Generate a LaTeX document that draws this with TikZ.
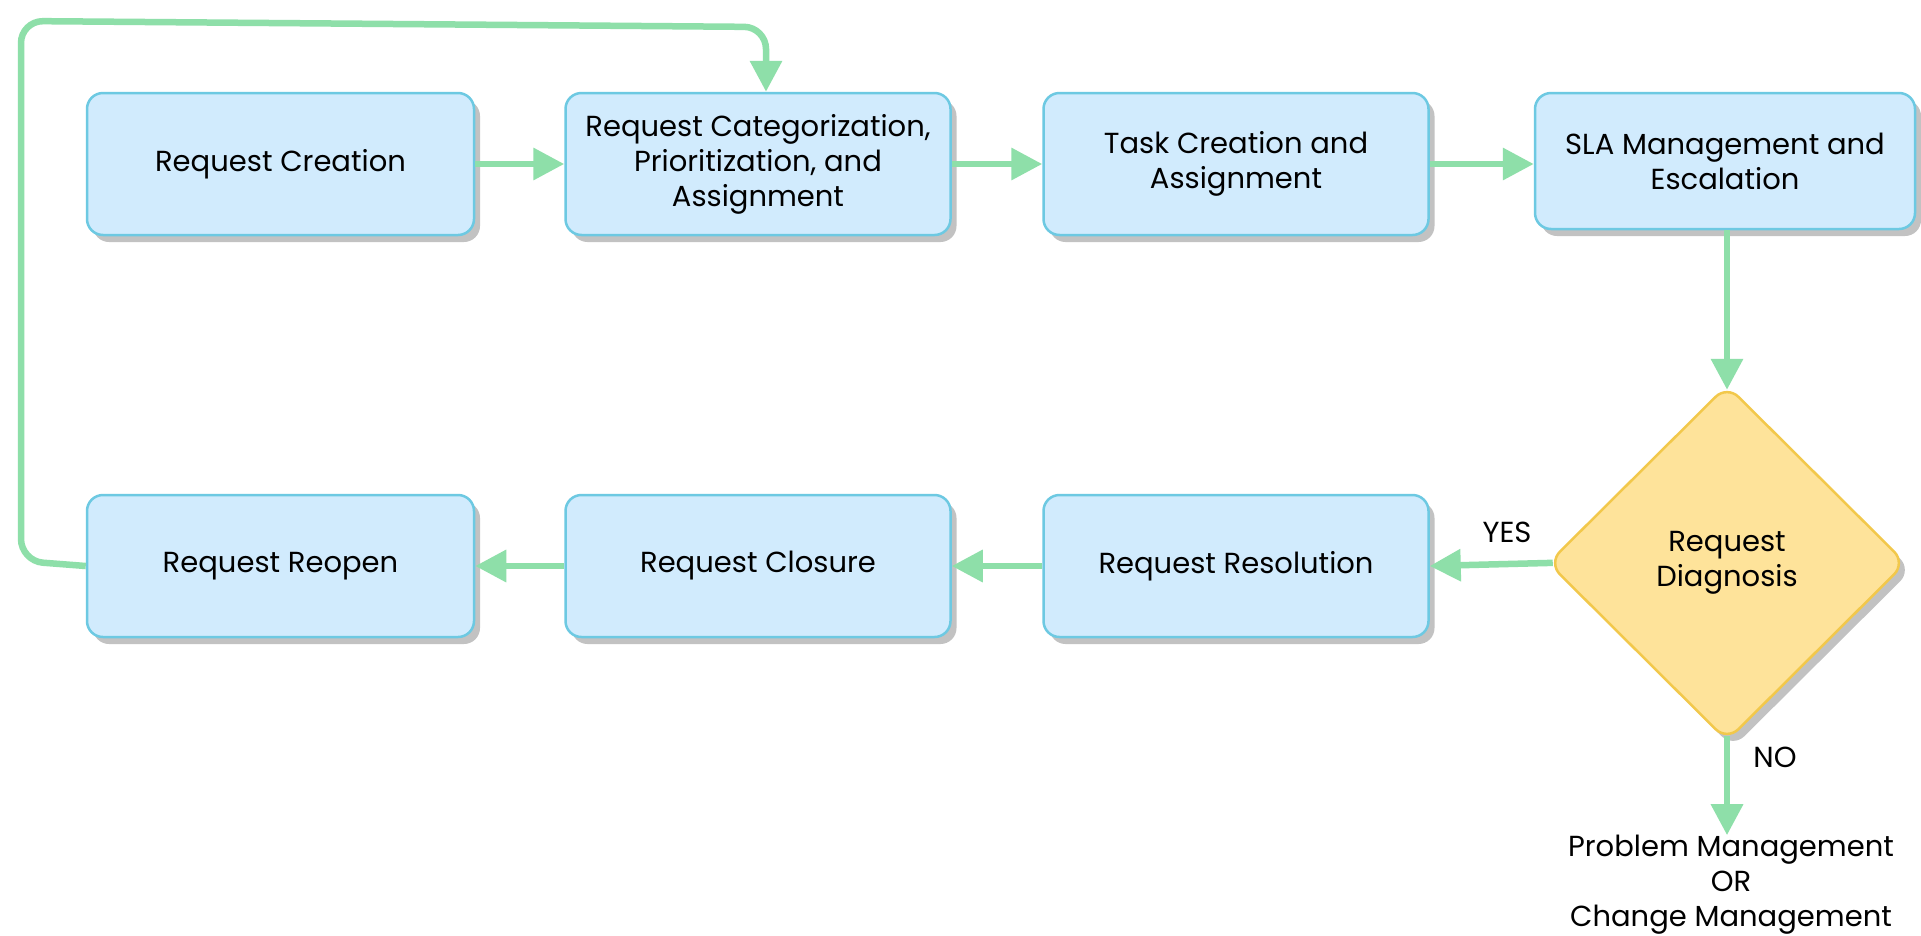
\documentclass[tikz,border=0pt]{standalone}
\usepackage{fontspec}
\setmainfont{Poppins}
\usetikzlibrary{shapes.geometric,arrows.meta,shadows,calc}
\definecolor{boxfill}{HTML}{D1EBFD}
\definecolor{boxline}{HTML}{6DC9E2}
\definecolor{shad}{HTML}{C2C2C2}
\definecolor{dfill}{HTML}{FEE39A}
\definecolor{dline}{HTML}{F2C84B}
\definecolor{arrc}{HTML}{8EDFA9}
\begin{document}
\begin{tikzpicture}[x=1pt,y=-1pt,
  every node/.style={font=\fontsize{29}{35}\selectfont, text=black},
  stepbox/.style={draw=boxline, line width=2.5pt, fill=boxfill, rounded corners=16pt,
    minimum width=385pt, minimum height=142pt, align=center, inner sep=0pt,
    drop shadow={shadow xshift=6pt, shadow yshift=-7pt, fill=shad, opacity=1}},
  decision/.style={diamond, aspect=1, draw=dline, line width=2.5pt, fill=dfill,
    rounded corners=16pt, minimum width=358pt, minimum height=356pt, inner sep=0pt,
    align=center, drop shadow={shadow xshift=6pt, shadow yshift=-7pt, fill=shad, opacity=1}},
  arr/.style={draw=arrc, line width=6.5pt, -{Triangle[length=31pt,width=31pt]}},
  lbl/.style={inner sep=0pt, align=center}]
\useasboundingbox (0,0) rectangle (1921,935);
\fill[white] (0,0) rectangle (1921,935);

\node[stepbox, minimum width=387pt] (b1) at (280.5,164) {Request Creation};
\node[stepbox] (b2) at (758,164) {Request Categorization,\\Prioritization, and\\Assignment};
\node[stepbox] (b3) at (1236,164) {Task Creation and\\Assignment};
\node[stepbox, minimum width=380pt, minimum height=136pt] (b4) at (1725,161) {SLA Management and\\Escalation};
\node[decision] (d) at (1727,563) {Request\\Diagnosis};
\node[stepbox] (b7) at (1236,566) {Request Resolution};
\node[stepbox] (b6) at (758,566) {Request Closure};
\node[stepbox, minimum width=387pt] (b5) at (280.5,566) {Request Reopen};
\node[lbl] (pm) at (1731,885) {Problem Management\\OR\\Change Management};
\node[lbl] (yes) at (1507,532) {YES};
\node[lbl] (no) at (1775,757) {NO};

\draw[arr] (b1.east) -- (b2.west);
\draw[arr] (b2.east) -- (b3.west);
\draw[arr] (b3.east) -- (b3.east -| b4.west);
\draw[arr, shorten >=-6pt] (b4.south -| d.north) -- (d.north);
\draw[arr, shorten <=-6pt] (d.west) -- (b7.east);
\draw[arr] (b7.west) -- (b6.east);
\draw[arr] (b6.west) -- (b5.east);
\draw[arr, shorten <=-6pt] (d.south) -- (d.south |- pm.north);
\coordinate (loopend) at ($(b2.north)+(8,0)$);
\draw[arr, rounded corners=22pt] (b5.west) -- (21,561) -- (21,21) -- (loopend |- 0,27) -- (loopend);
\end{tikzpicture}
\end{document}
